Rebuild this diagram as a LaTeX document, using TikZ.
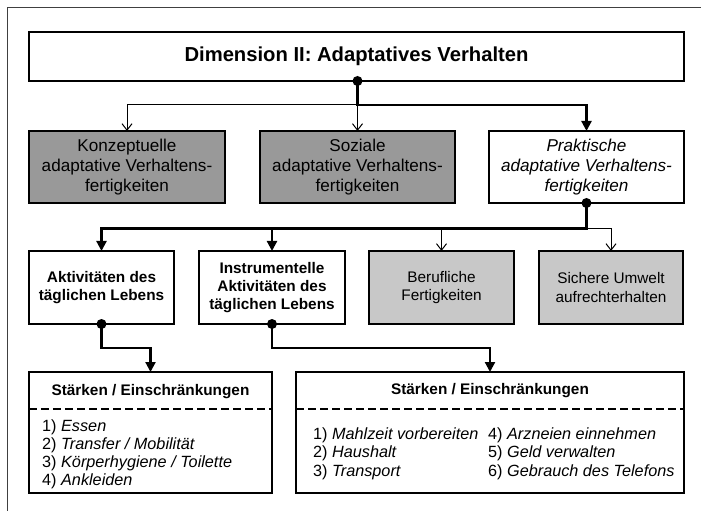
\documentclass[tikz,border=0pt]{standalone}
\usepackage{fontspec}
\setmainfont{Liberation Sans}
\usetikzlibrary{arrows.meta}
\definecolor{darkfill}{HTML}{999999}
\definecolor{lightfill}{HTML}{C8C8C8}
\definecolor{framegray}{HTML}{404040}
\begin{document}
\begin{tikzpicture}[x=1bp,y=-1bp,
  box/.style={draw, line width=1.5bp, inner sep=0pt, outer sep=0pt, align=center},
  rowtwo/.style={box, minimum width=195bp, minimum height=72bp, font=\fontsize{17.2}{20.5}\selectfont},
  rowthree/.style={box, minimum width=145bp, minimum height=73bp, font=\fontsize{15.4}{18.4}\selectfont},
  listbox/.style={box, minimum height=121bp},
  header/.style={font=\fontsize{15.4}{18}\selectfont\bfseries, inner sep=0pt},
  item/.style={anchor=base west, inner sep=0pt, font=\fontsize{16.3}{18.3}\selectfont},
  thinconn/.style={line width=1bp, -{Straight Barb[length=6.5bp,width=10bp,line width=1bp]}},
  thickconn/.style={line width=2.2bp, -{Triangle[length=10bp,width=10bp]}},
  dot/.style={fill=black}
]
\useasboundingbox (0,0) rectangle (701,511);
% outer frame (only top and left visible)
\draw[framegray, line width=1bp] (7,511) -- (7,8) -- (701,8);

% title
\node[box, minimum width=655bp, minimum height=49bp, font=\fontsize{20.3}{24}\selectfont\bfseries] (title) at (356.5,56.5) {Dimension II: Adaptatives Verhalten};

% row two
\node[rowtwo, fill=darkfill, minimum width=196bp] (konz) at (127,167) {Konzeptuelle\\adaptative Verhaltens-\\fertigkeiten};
\node[rowtwo, fill=darkfill] (soz) at (357.5,167) {Soziale\\adaptative Verhaltens-\\fertigkeiten};
\node[rowtwo, fill=white] (prak) at (586.5,167) {\itshape Praktische\\\itshape adaptative Verhaltens-\\\itshape fertigkeiten};

% row three
\node[rowthree, font=\fontsize{15.4}{18.4}\selectfont\bfseries] (akt) at (101.5,287.5) {Aktivitäten des\\täglichen Lebens};
\node[rowthree, minimum width=146bp, font=\fontsize{15.4}{18.4}\selectfont\bfseries] (instr) at (272,287.5) {Instrumentelle\\Aktivitäten des\\täglichen Lebens};
\node[rowthree, fill=lightfill] (beruf) at (441.5,287.5) {Berufliche\\Fertigkeiten};
\node[rowthree, fill=lightfill, minimum width=144bp] (sicher) at (611,287.5) {Sichere Umwelt\\aufrechterhalten};

% row four: lists
\node[listbox, minimum width=243bp] (listL) at (150.5,432.5) {};
\node[listbox, minimum width=388bp] (listR) at (490,432.5) {};
\node[header] (hL) at (listL.north |- 0,391.5) {Stärken / Einschränkungen};
\node[header] (hR) at (listR.north |- 0,391) {Stärken / Einschränkungen};
\draw[line width=1.8bp, dash pattern=on 8bp off 4bp] (listL.west |- 0,409.3) -- (listL.east |- 0,409.3);
\draw[line width=1.8bp, dash pattern=on 8bp off 4bp] (listR.west |- 0,409.3) -- (listR.east |- 0,409.3);

\node[item] (l1) at (42,431) {1) \textit{Essen}};
\node[item] (l2) at (42,449.3) {2) \textit{Transfer / Mobilität}};
\node[item] (l3) at (42,467.6) {3) \textit{Körperhygiene / Toilette}};
\node[item] (l4) at (42,485.9) {4) \textit{Ankleiden}};

\node[item] (r1) at (313,439) {1) \textit{Mahlzeit vorbereiten}};
\node[item] (r2) at (313,457.5) {2) \textit{Haushalt}};
\node[item] (r3) at (313,476) {3) \textit{Transport}};
\node[item] (r4) at (488,439) {4) \textit{Arzneien einnehmen}};
\node[item] (r5) at (488,457.5) {5) \textit{Geld verwalten}};
\node[item] (r6) at (488,476) {6) \textit{Gebrauch des Telefons}};

% connectors title -> row two
\coordinate (t0) at (title.south -| soz.north);
\coordinate (j1) at (soz.north |- 0,105);
\draw[thinconn] (j1) -| (konz.north);
\draw[thinconn] (j1) -- (soz.north);
\draw[thickconn] (t0) -- (j1) -| (prak.north);
\fill[dot] (t0) circle (5bp);

% connectors row two -> row three
\coordinate (j2) at (prak.south |- 0,228.5);
\draw[thinconn] (beruf.north |- j2) -- (beruf.north);
\draw[thinconn] (j2) -| (sicher.north);
\draw[thickconn] (instr.north |- j2) -- (instr.north);
\draw[thickconn] (prak.south) -- (j2) -| (akt.north);
\fill[dot] (prak.south) circle (5bp);

% connectors row three -> lists
\coordinate (k1) at (akt.south |- 0,348);
\coordinate (k2) at (instr.south |- 0,348);
\draw[thickconn] (akt.south) -- (k1) -| (listL.north);
\draw[thickconn] (instr.south) -- (k2) -| (listR.north);
\fill[dot] (akt.south) circle (5bp);
\fill[dot] (instr.south) circle (5bp);
\end{tikzpicture}
\end{document}
